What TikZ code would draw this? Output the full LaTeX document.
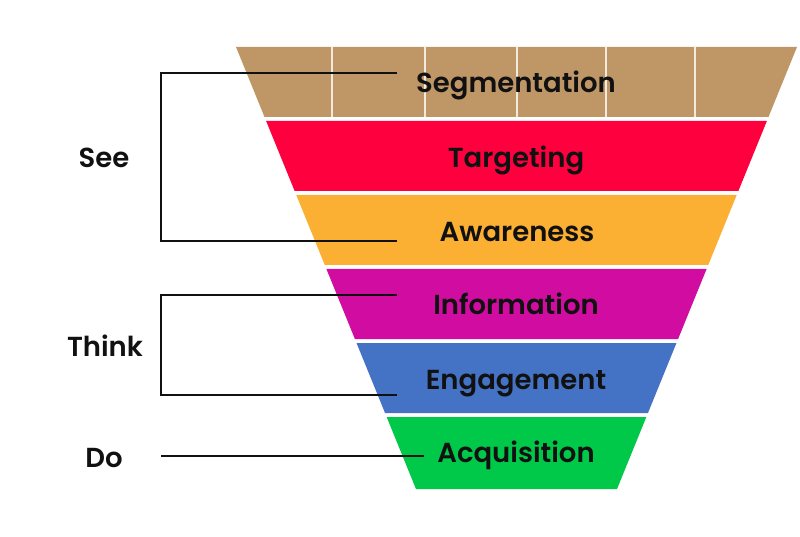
\documentclass[tikz,border=0pt]{standalone}
\usepackage{fontspec}
\setmainfont{Poppins}[UprightFont=* SemiBold]
\definecolor{cTan}{HTML}{BF9766}
\definecolor{cRed}{HTML}{FF003F}
\definecolor{cOrange}{HTML}{FBB034}
\definecolor{cMagenta}{HTML}{D10CA0}
\definecolor{cBlue}{HTML}{4472C4}
\definecolor{cGreen}{HTML}{00C94A}
\definecolor{cGrid}{HTML}{F2EADF}
\definecolor{cInk}{HTML}{111111}
\newcommand{\bandfill}[3]{%
  \fill[#3] ({236+(#1-47)*0.4072},#1) -- ({797-(#1-47)*0.4072},#1)
    -- ({797-(#2-47)*0.4072},#2) -- ({236+(#2-47)*0.4072},#2) -- cycle;}
\tikzset{
  lbl/.style={font=\fontsize{27.5}{30}\selectfont, text=cInk, inner sep=0pt, anchor=base},
  bracket/.style={draw=cInk, line width=1.4pt},
  gridline/.style={draw=cGrid, line width=1.3pt}
}
\begin{document}
\begin{tikzpicture}[x=1pt,y=-1pt]
\useasboundingbox (0,0) rectangle (800,537);
% bands
\bandfill{47}{117}{cTan}
\bandfill{121}{191}{cRed}
\bandfill{195}{265}{cOrange}
\bandfill{269}{339}{cMagenta}
\bandfill{343}{413}{cBlue}
\bandfill{417}{489}{cGreen}
% grid lines in top band
\foreach \gx in {332,425,517,606,695}
  \draw[gridline] (\gx,47) -- (\gx,117);
% brackets
\coordinate (seeA) at (397,73);
\coordinate (seeB) at (397,241);
\coordinate (thinkA) at (397,295);
\coordinate (thinkB) at (397,395);
\coordinate (doA) at (424,456);
\coordinate (doB) at (161,456);
\draw[bracket] (seeA) -- ++(-236,0) |- (seeB);
\draw[bracket] (thinkA) -- ++(-236,0) |- (thinkB);
\draw[bracket] (doB) -- (doA);
% band labels
\node[lbl] (seg) at (516,93) {Segmentation};
\node[lbl] (tar) at (516,168) {Targeting};
\node[lbl] (awa) at (517,242) {Awareness};
\node[lbl] (inf) at (516,314) {Information};
\node[lbl] (eng) at (516,389) {Engagement};
\node[lbl] (acq) at (516,462) {Acquisition};
% stage labels
\node[lbl] (see) at (104,168) {See};
\node[lbl] (think) at (105,356) {Think};
\node[lbl] (do) at (104,467) {Do};
\end{tikzpicture}
\end{document}
